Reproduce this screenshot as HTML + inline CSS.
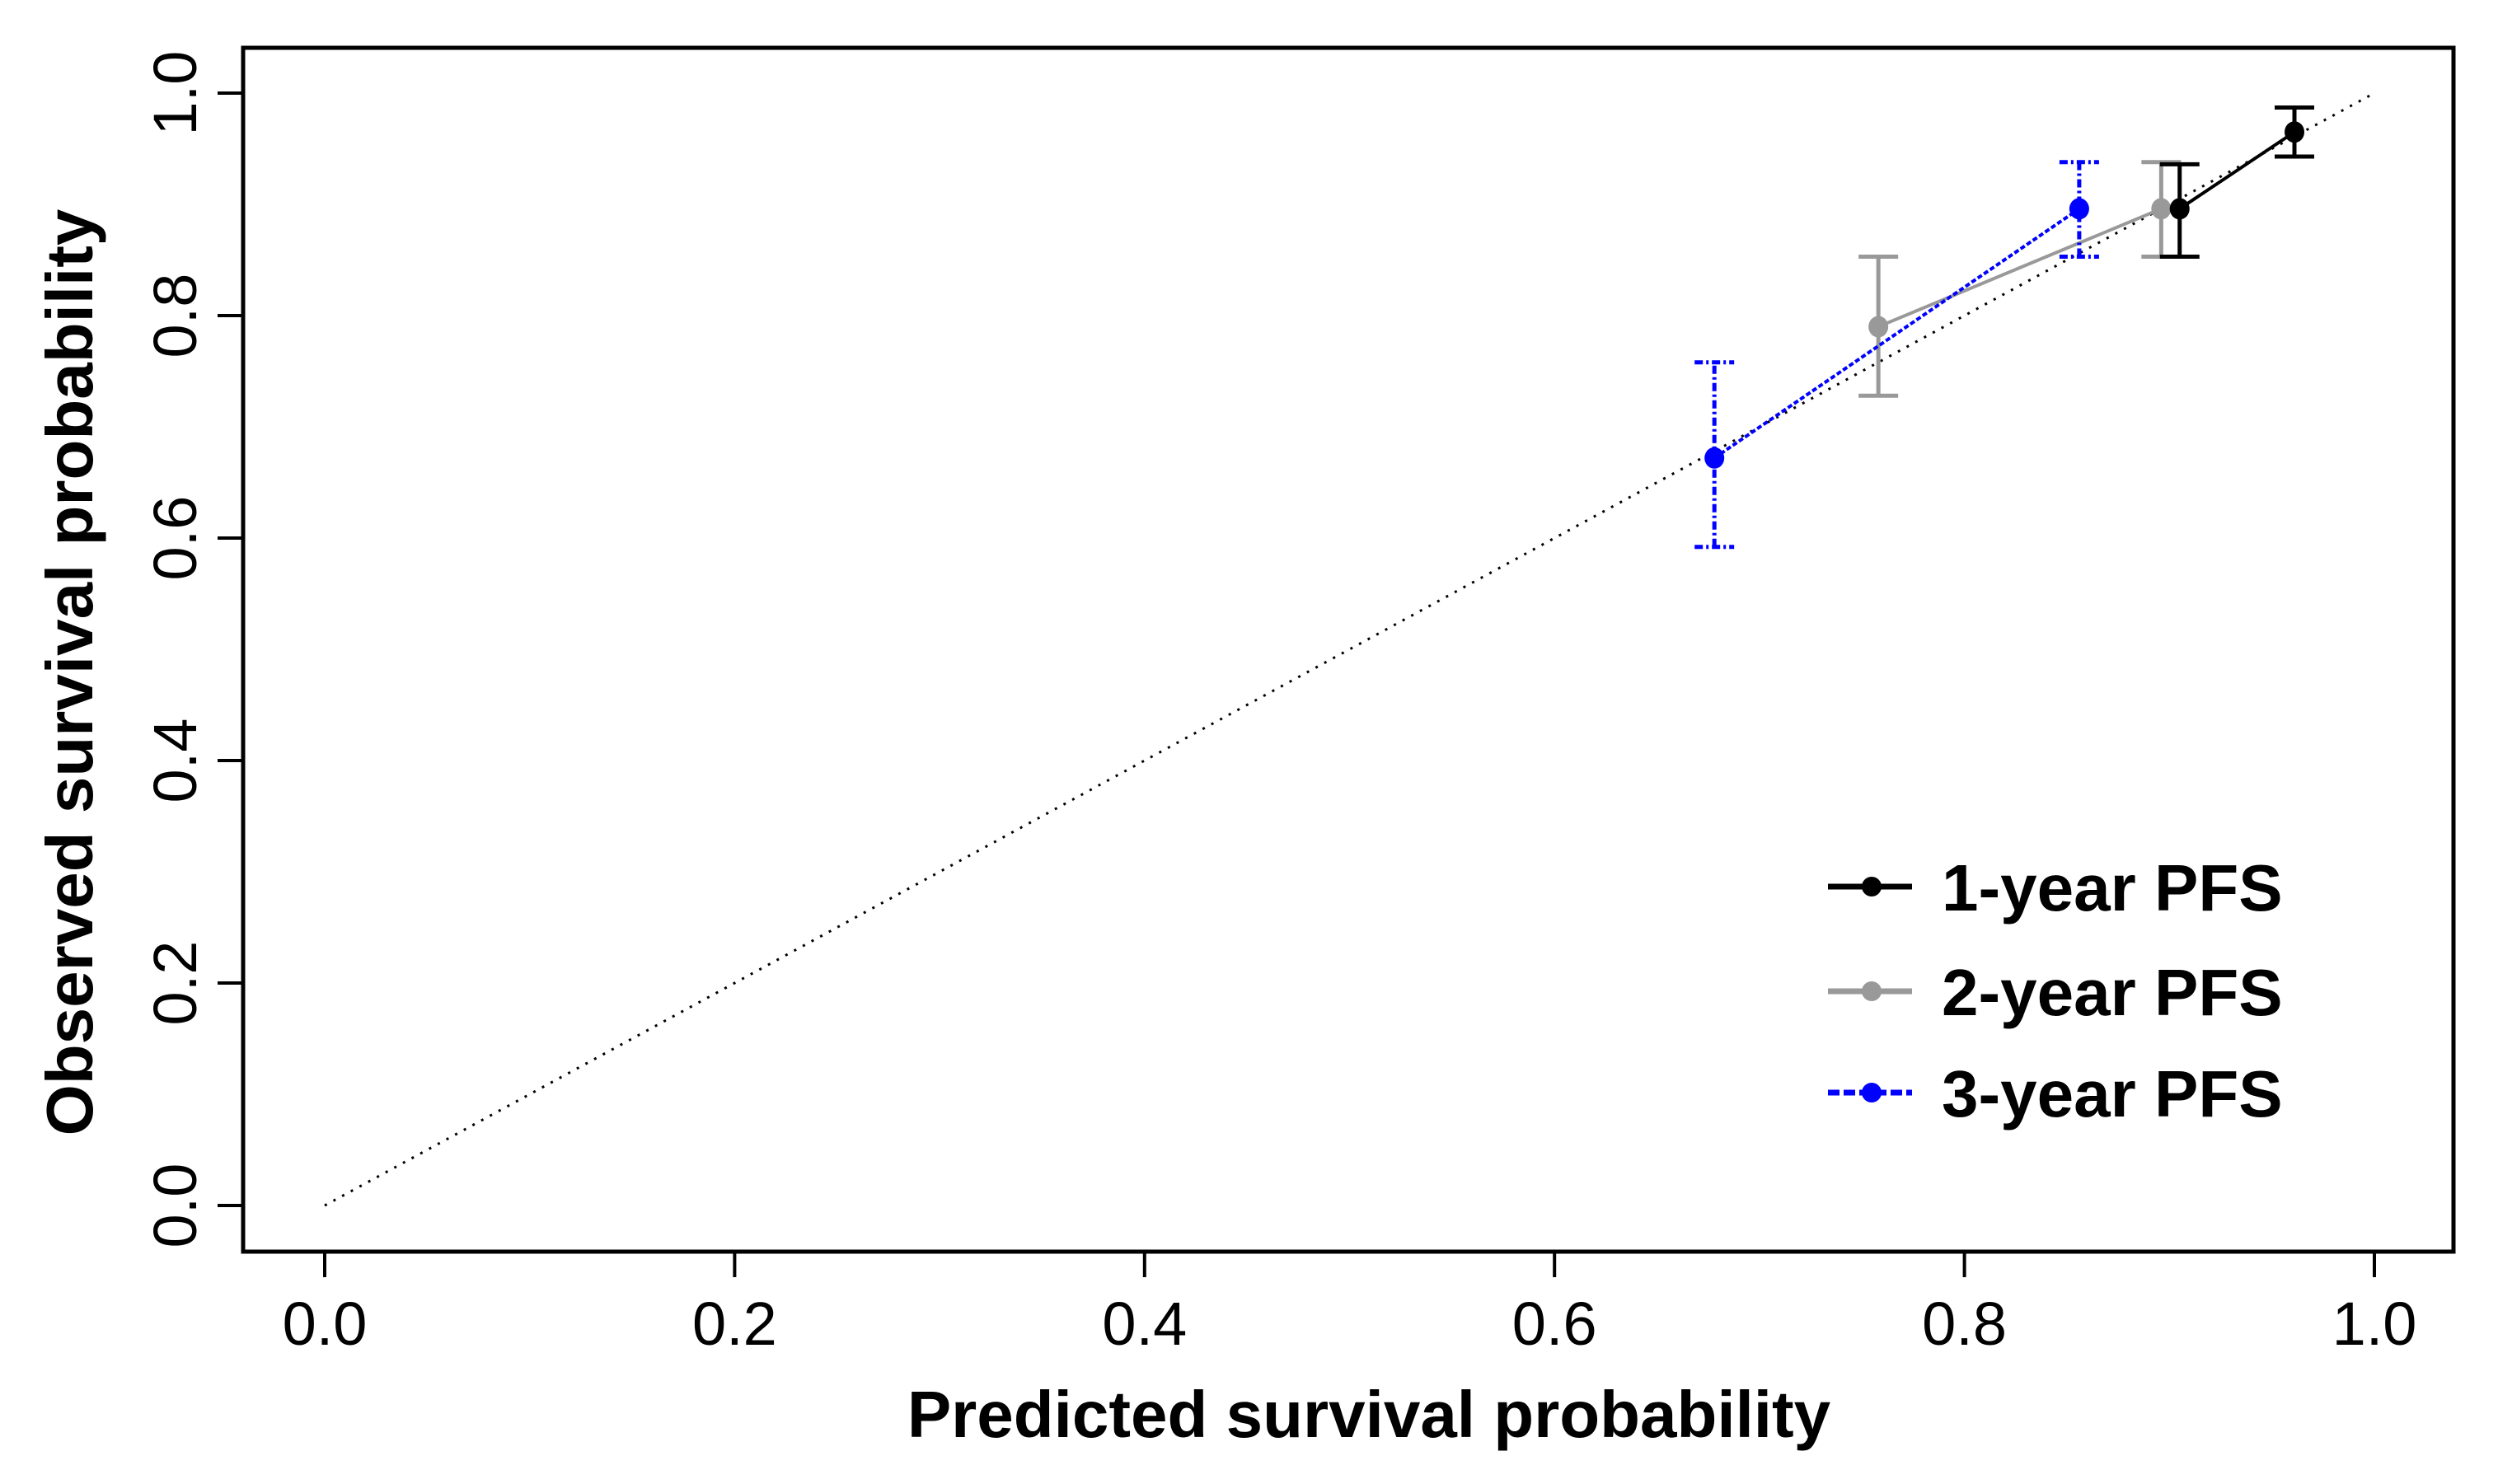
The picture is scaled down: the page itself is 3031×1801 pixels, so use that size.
<!DOCTYPE html>
<html><head><meta charset="utf-8"><style>
html,body{margin:0;padding:0;background:#fff}
svg{display:block}
text{font-family:"Liberation Sans",Arial,sans-serif}
</style></head><body>
<svg id="chart" width="3031" height="1801" viewBox="0 0 3031 1801" xmlns="http://www.w3.org/2000/svg">
<rect x="295" y="58" width="2682" height="1461" fill="none" stroke="#000" stroke-width="5"/>
<g id="axes"></g>
<g id="marks"></g>
<text x="1661" y="1744" font-size="80" font-weight="bold" text-anchor="middle">Predicted survival probability</text>
<text transform="translate(112,816) rotate(-90)" font-size="80" font-weight="bold" text-anchor="middle">Observed survival probability</text>
<g id="legend"></g>
</svg>
<script>
const ticks=[0,0.2,0.4,0.6,0.8,1.0];
const tickLabels=["0.0","0.2","0.4","0.6","0.8","1.0"];
const seriesNames=["1-year PFS","2-year PFS","3-year PFS"];
const seriesColors=["#000000","#999999","#0000ff"];
const predicted1=[0.905,0.961];
const observed1=[0.896,0.965];
const lower1=[0.853,0.943];
const upper1=[0.936,0.987];
const predicted2=[0.758,0.896];
const observed2=[0.790,0.896];
const lower2=[0.728,0.853];
const upper2=[0.853,0.938];
const predicted3=[0.678,0.856];
const observed3=[0.672,0.896];
const lower3=[0.592,0.853];
const upper3=[0.758,0.938];

const NS="http://www.w3.org/2000/svg";
const X=v=>394+v*2487;
const Y=v=>1463-v*1350;
function mk(tag,attrs,parent){const e=document.createElementNS(NS,tag);for(const k in attrs)e.setAttribute(k,attrs[k]);parent.appendChild(e);return e;}
const axes=document.getElementById('axes');
ticks.forEach((t,i)=>{
  const a=mk('line',{x1:X(t),x2:X(t),y1:1519,y2:1550,stroke:'#000','stroke-width':4},axes);
  
  
  const b=mk('text',{x:X(t),y:1632,'font-size':74,'text-anchor':'middle'},axes);
  b.textContent=tickLabels[i];
  
  
  const c=mk('line',{x1:264,x2:295,y1:Y(t),y2:Y(t),stroke:'#000','stroke-width':4},axes);
  
  
  const d=mk('text',{transform:`translate(238,${Y(t)}) rotate(-90)`,'font-size':74,'text-anchor':'middle'},axes);
  d.textContent=tickLabels[i];
  
  
});
const marks=document.getElementById('marks');
const diag=mk('line',{x1:X(0),y1:Y(0),x2:X(1),y2:Y(1),stroke:'#000','stroke-width':3,'stroke-dasharray':'3 9'},marks);


const series=[[predicted2,observed2,lower2,upper2],[predicted3,observed3,lower3,upper3],[predicted1,observed1,lower1,upper1]];
const order=[1,2,0];
series.forEach((s,k)=>{
  const idx=order[k];const col=seriesColors[idx];
  const dash=idx===2?'10 4 3 4':'none';
  const g=mk('g',{},marks);
  
  
  const pl=mk('polyline',{points:s[0].map((p,i)=>X(p)+','+Y(s[1][i])).join(' '),fill:'none',stroke:col,'stroke-width':4,'stroke-dasharray':idx===2?'6 3':'none'},g);
  
  
  s[0].forEach((p,i)=>{
    const eb=mk('path',{d:`M${X(p)},${Y(s[2][i])}V${Y(s[3][i])}M${X(p)-24},${Y(s[2][i])}h48M${X(p)-24},${Y(s[3][i])}h48`,fill:'none',stroke:col,'stroke-width':5,'stroke-dasharray':dash},g);
    
    
    const pt=mk('ellipse',{cx:X(p),cy:Y(s[1][i]),rx:12,ry:13,fill:col},g);
    
    
  });
});
const lg=document.getElementById('legend');
const ly=[1076,1203,1326];
seriesNames.forEach((n,i)=>{
  const g=mk('g',{},lg);
  
  
  mk('line',{x1:2218,x2:2320,y1:ly[i],y2:ly[i],stroke:seriesColors[i],'stroke-width':7,'stroke-dasharray':i===2?'14 5':'none'},g);
  mk('circle',{cx:2271,cy:ly[i],r:12,fill:seriesColors[i]},g);
  const t=mk('text',{x:2356,y:ly[i]+29,'font-size':80,'font-weight':'bold'},g);
  t.textContent=n;
});
</script>
</body></html>
